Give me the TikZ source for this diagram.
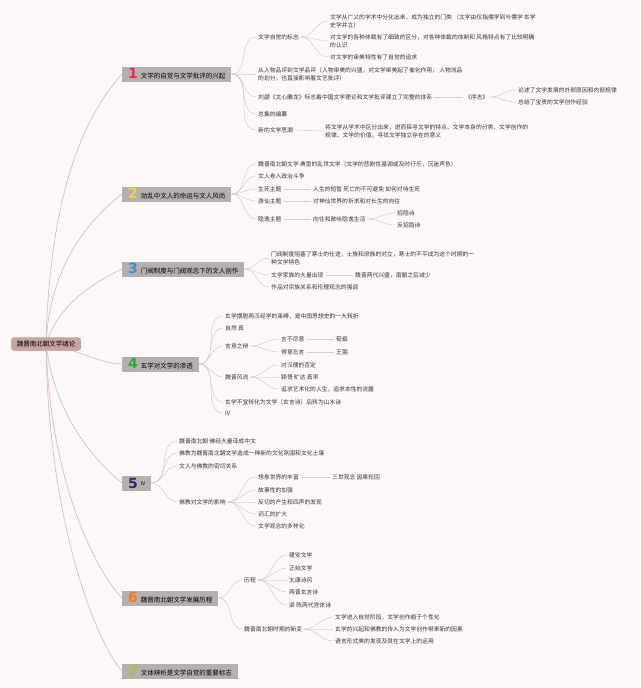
\documentclass[tikz,border=0pt]{standalone}
\usepackage{fontspec}
\setmainfont{Noto Sans CJK SC}
\newfontfamily\digitfont{DejaVu Sans}
\definecolor{bgc}{HTML}{FDF8F8}
\definecolor{txt}{HTML}{353535}
\definecolor{boxc}{HTML}{B4B0AD}
\definecolor{rootc}{HTML}{C9A2A2}
\definecolor{lnc}{HTML}{D9CFC8}
\definecolor{rlnc}{HTML}{DDC4C4}
\definecolor{dA}{HTML}{E8265A}
\definecolor{dB}{HTML}{F6D03F}
\definecolor{dC}{HTML}{3B8FD9}
\definecolor{dD}{HTML}{2EA836}
\definecolor{dE}{HTML}{262C73}
\definecolor{dF}{HTML}{F07B26}
\definecolor{dG}{HTML}{A0C63C}
\pgfdeclarelayer{bg}
\pgfsetlayers{bg,main}
\newcommand{\dg}[2]{{\digitfont\fontsize{14}{14}\selectfont\bfseries\color{#1}#2}\hspace{3pt}}
\tikzset{
  leaf/.style={anchor=west, inner xsep=2pt, inner ysep=1pt, font=\fontsize{5.8}{8.2}\selectfont, text=txt, align=left},
  title/.style={anchor=west, fill=boxc, inner xsep=6pt, inner ysep=0pt, minimum height=15pt, font=\fontsize{6.5}{8}\selectfont, text=black},
  rootn/.style={fill=rootc, draw=rootc!85!black, line width=0.3pt, rounded corners=3pt, inner xsep=5.5pt, inner ysep=0pt, minimum height=13pt, font=\fontsize{6.5}{8}\selectfont, text=black},
  lk/.style={draw=lnc, line width=0.55pt},
  rlk/.style={draw=rlnc, line width=0.8pt},
  cv/.style={out=0, in=180}
}
\begin{document}
\begin{tikzpicture}[x=1pt, y=-1pt]
\useasboundingbox (0,0) rectangle (640,688);
\begin{pgfonlayer}{bg}
\fill[bgc] (0,0) rectangle (640,688);
\end{pgfonlayer}

% root
\node[rootn] (root) at (46,344) {魏晋南北朝文学绪论};

% section titles
\node[title] (s1) at (122,74) {\dg{dA}{1}文学的自觉与文学批评的兴起};
\node[title] (s2) at (122,194) {\dg{dB}{2}动乱中文人的命运与文人风尚};
\node[title] (s3) at (122,269) {\dg{dC}{3}门阀制度与门阀观念下的文人创作};
\node[title] (s4) at (122,364) {\dg{dD}{4}玄学对文学的渗透};
\node[title] (s5) at (122,483) {\dg{dE}{5}\raisebox{3pt}{\fontsize{5}{5}\selectfont IV}};
\node[title] (s6) at (122,598) {\dg{dF}{6}魏晋南北朝文学发展历程};
\node[title] (s7) at (122,671) {\dg{dG}{7}文体辨析是文学自觉的重要标志};

% section 1
\node[leaf] (s1a) at (256,37) {文学自觉的标志};
\node[leaf] (s1a1) at (328,21) {文学从广义的学术中分化出来，成为独立的门类 （文学由仅指儒学到与儒学 玄学\\史学并立）};
\node[leaf] (s1a2) at (328,41) {对文学的各种体裁有了细致的区分，对各种体裁的体制和 风格特点有了比较明确\\的认识};
\node[leaf] (s1a3) at (328,57) {对文学的审美特性有了自觉的追求};
\node[leaf] (s1b) at (256,74) {从人物品评到文学品评（人物审美的兴盛，对文学审美起了催化作用， 人物流品\\的划分，也直接影响着文艺批评）};
\node[leaf] (s1c) at (256,97) {刘勰《文心雕龙》标志着中国文学理论和文学批评建立了完整的体系};
\node[leaf] (s1c1) at (463,97) {《序志》};
\node[leaf] (s1c1a) at (516,90) {论述了文学发展的外部原因和内部规律};
\node[leaf] (s1c1b) at (516,102) {总结了宝贵的文学创作经验};
\node[leaf] (s1d) at (256,114) {总集的编纂};
\node[leaf] (s1e) at (256,130) {新的文学思潮};
\node[leaf] (s1e1) at (323,131) {将文学从学术中区分出来，进而探寻文学的特点、文学本身的分类、文学创作的\\规律、文学的价值，寻找文学独立存在的意义};

% section 2
\node[leaf] (s2a) at (256,164) {魏晋南北朝文学 典型的乱世文学（文学的悲剧性基调或及时行乐，沉迷声色）};
\node[leaf] (s2b) at (256,176) {文人卷入政治斗争};
\node[leaf] (s2c) at (256,189) {生死主题};
\node[leaf] (s2c1) at (311,189) {人生的短暂 死亡的不可避免 如何对待生死};
\node[leaf] (s2d) at (256,201) {游仙主题};
\node[leaf] (s2d1) at (311,201) {对神仙世界的祈求和对长生的向往};
\node[leaf] (s2e) at (256,219) {隐逸主题};
\node[leaf] (s2e1) at (311,219) {向往和歌咏隐逸生活};
\node[leaf] (s2e1a) at (395,213) {招隐诗};
\node[leaf] (s2e1b) at (395,225) {反招隐诗};

% section 3
\node[leaf] (s3a) at (269,258) {门阀制度阻塞了寒士的仕途，士族和庶族的对立，寒士的不平成为这个时期的一\\种文学特色};
\node[leaf] (s3b) at (269,275) {文学家族的大量出现};
\node[leaf] (s3b1) at (353,275) {魏晋两代兴盛，南朝之后减少};
\node[leaf] (s3c) at (269,287) {作品对宗族关系和伦理观念的强调};

% section 4
\node[leaf] (s4a) at (223,316) {玄学摆脱两汉经学的束缚，是中国思想史的一大转折};
\node[leaf] (s4b) at (223,328) {自然 真};
\node[leaf] (s4c) at (223,346) {言意之辩};
\node[leaf] (s4c1) at (279,339) {言不尽意};
\node[leaf] (s4c1a) at (334,339) {荀粲};
\node[leaf] (s4c2) at (279,352) {得意忘言};
\node[leaf] (s4c2a) at (334,352) {王弼};
\node[leaf] (s4d) at (223,377) {魏晋风流};
\node[leaf] (s4d1) at (279,365) {对汉儒的否定};
\node[leaf] (s4d2) at (279,377) {颖悟 旷达 真率};
\node[leaf] (s4d3) at (279,389) {追求艺术化的人生，追求本性的流露};
\node[leaf] (s4e) at (223,402) {玄学不宜转化为文学（玄言诗）后转为山水诗};
\node[leaf] (s4f) at (223,413) {IV};

% section 5
\node[leaf] (s5a) at (177,441) {魏晋南北朝 佛经大量译成中文};
\node[leaf] (s5b) at (177,453) {佛教为魏晋南北朝文学造成一种新的文化氛围和文化土壤};
\node[leaf] (s5c) at (177,466) {文人与佛教的密切关系};
\node[leaf] (s5d) at (177,502) {佛教对文学的影响};
\node[leaf] (s5d1) at (256,477) {想象世界的丰富};
\node[leaf] (s5d1a) at (330,477) {三世观念 因果轮回};
\node[leaf] (s5d2) at (256,490) {故事性的加强};
\node[leaf] (s5d3) at (256,502) {反切的产生和四声的发现};
\node[leaf] (s5d4) at (256,514) {词汇的扩大};
\node[leaf] (s5d5) at (256,526) {文学观念的多样化};

% section 6
\node[leaf] (s6a) at (242,580) {历程};
\node[leaf] (s6a1) at (287,555) {建安文学};
\node[leaf] (s6a2) at (287,568) {正始文学};
\node[leaf] (s6a3) at (287,580) {太康诗风};
\node[leaf] (s6a4) at (287,592) {两晋玄言诗};
\node[leaf] (s6a5) at (287,605) {梁 陈两代宫体诗};
\node[leaf] (s6b) at (242,629) {魏晋南北朝时期的新变};
\node[leaf] (s6b1) at (333,617) {文学进入自觉阶段，文学创作趋于个性化};
\node[leaf] (s6b2) at (333,629) {玄学的兴起和佛教的传入为文学创作带来新的因素};
\node[leaf] (s6b3) at (333,641) {语言形式美的发现及其在文学上的运用};

\begin{pgfonlayer}{bg}
% root connectors
\draw[rlk] (root.center) .. controls (50,180) and (90,110) .. (s1.west);
\draw[rlk] (root.center) .. controls (50,260) and (95,215) .. (s2.west);
\draw[rlk] (root.center) .. controls (60,300) and (100,280) .. (s3.west);
\draw[rlk] (root.center) .. controls (80,350) and (100,364) .. (s4.west);
\draw[rlk] (root.center) .. controls (55,420) and (100,465) .. (s5.west);
\draw[rlk] (root.center) .. controls (50,480) and (95,570) .. (s6.west);
\draw[rlk] (root.center) .. controls (48,520) and (95,640) .. (s7.west);

% section 1
\foreach \c in {s1a,s1b,s1c,s1d,s1e} \draw[lk] (s1.east) to[cv] (\c.west);
\foreach \c in {s1a1,s1a2,s1a3} \draw[lk] (s1a.east) to[cv] (\c.west);
\draw[lk] (s1c.east) -- (s1c1.west);
\foreach \c in {s1c1a,s1c1b} \draw[lk] (s1c1.east) to[cv] (\c.west);
\draw[lk] (s1e.east) -- (s1e1.west);

% section 2
\foreach \c in {s2a,s2b,s2c,s2d,s2e} \draw[lk] (s2.east) to[cv] (\c.west);
\draw[lk] (s2c.east) -- (s2c1.west);
\draw[lk] (s2d.east) -- (s2d1.west);
\draw[lk] (s2e.east) -- (s2e1.west);
\foreach \c in {s2e1a,s2e1b} \draw[lk] (s2e1.east) to[cv] (\c.west);

% section 3
\foreach \c in {s3a,s3b,s3c} \draw[lk] (s3.east) to[cv] (\c.west);
\draw[lk] (s3b.east) -- (s3b1.west);

% section 4
\foreach \c in {s4a,s4b,s4c,s4d,s4e,s4f} \draw[lk] (s4.east) to[cv] (\c.west);
\foreach \c in {s4c1,s4c2} \draw[lk] (s4c.east) to[cv] (\c.west);
\draw[lk] (s4c1.east) -- (s4c1a.west);
\draw[lk] (s4c2.east) -- (s4c2a.west);
\foreach \c in {s4d1,s4d2,s4d3} \draw[lk] (s4d.east) to[cv] (\c.west);

% section 5
\foreach \c in {s5a,s5b,s5c,s5d} \draw[lk] (s5.east) to[cv] (\c.west);
\foreach \c in {s5d1,s5d2,s5d3,s5d4,s5d5} \draw[lk] (s5d.east) to[cv] (\c.west);
\draw[lk] (s5d1.east) -- (s5d1a.west);

% section 6
\foreach \c in {s6a,s6b} \draw[lk] (s6.east) to[cv] (\c.west);
\foreach \c in {s6a1,s6a2,s6a3,s6a4,s6a5} \draw[lk] (s6a.east) to[cv] (\c.west);
\foreach \c in {s6b1,s6b2,s6b3} \draw[lk] (s6b.east) to[cv] (\c.west);
\end{pgfonlayer}
\end{tikzpicture}
\end{document}
